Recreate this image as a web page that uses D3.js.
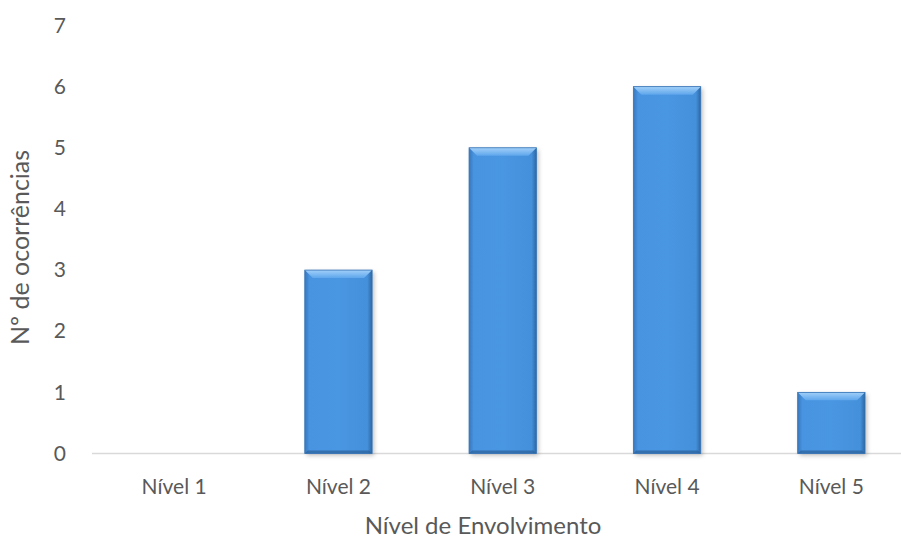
<!DOCTYPE html>
<html><head><meta charset="utf-8">
<script src="https://cdn.jsdelivr.net/npm/d3@7"></script>
<style>body{margin:0;background:#fff}svg{display:block}text{font-family:Lato,"Open Sans",sans-serif;fill:#595959}</style>
</head><body><svg id="c" width="901" height="541"></svg>
<script>
const categories=["Nível 1","Nível 2","Nível 3","Nível 4","Nível 5"];
const values=[0,3,5,6,1];
const yTicks=[0,1,2,3,4,5,6,7];
const xTitle="Nível de Envolvimento";
const yTitle="Nº de ocorrências";

const svg=d3.select("#c");
const x=d3.scaleBand().domain(categories).range([92,913.5]).paddingInner(0.59).paddingOuter(0.295);
const y=d3.scaleLinear().domain([0,7]).range([453.5,25.5]);

const defs=svg.append("defs");
const g1=defs.append("linearGradient").attr("id","hg").attr("x1","0").attr("x2","1").attr("y1","0").attr("y2","0");
[[0,"#3877bd"],[0.07,"#4894e0"],[0.5,"#4a96e2"],[0.93,"#4490da"],[1,"#2d66a3"]].forEach(s=>g1.append("stop").attr("offset",s[0]).attr("stop-color",s[1]));
const g3=defs.append("linearGradient").attr("id","tg").attr("x1","0").attr("x2","0").attr("y1","0").attr("y2","1");
[[0,"#a2d0f9"],[1,"#5ea6ec"]].forEach(s=>g3.append("stop").attr("offset",s[0]).attr("stop-color",s[1]));
const f=defs.append("filter").attr("id","sh").attr("x","-20%").attr("y","-20%").attr("width","150%").attr("height","150%");
f.append("feDropShadow").attr("dx",2).attr("dy",2).attr("stdDeviation",2).attr("flood-color","#000").attr("flood-opacity",0.25);

const xAxis=svg.append("g").attr("transform",`translate(0,${y(0)})`).call(d3.axisBottom(x).tickSize(0).tickPadding(0));
xAxis.select(".domain").attr("stroke","#d9d9d9").attr("stroke-width",1.5).attr("d",`M${x.range()[0]},0H${x.range()[1]}`);
xAxis.selectAll(".tick text").attr("dy",0).attr("y",40).style("font-size","21px").attr("fill","#595959");

const yAxis=svg.append("g").attr("transform",`translate(${x.range()[0]},0)`).call(d3.axisLeft(y).tickValues(yTicks).tickSize(0).tickPadding(26).tickFormat(d3.format("d")));
yAxis.select(".domain").remove();
yAxis.selectAll(".tick text").style("font-size","21px").attr("fill","#595959");

const bw=x.bandwidth(), bev=8;
const data=categories.map((c,i)=>({c,v:values[i]})).filter(d=>d.v>0);
const bars=svg.append("g").selectAll("g").data(data).join("g");
bars.append("rect").attr("x",d=>x(d.c)).attr("y",d=>y(d.v)).attr("width",bw).attr("height",d=>y(0)-y(d.v)).attr("fill","url(#hg)").attr("filter","url(#sh)");
bars.append("path").attr("d",d=>{const x0=x(d.c),x1=x0+bw,b=y(0);return `M${x0},${b}H${x1}L${x1-3},${b-3}H${x0+3}Z`;}).attr("fill","#2c5f99").attr("opacity",0.7);
bars.append("path").attr("d",d=>{const x0=x(d.c),x1=x0+bw,t=y(d.v);return `M${x0},${t}H${x1}L${x1-bev},${t+bev}H${x0+bev}Z`;}).attr("fill","url(#tg)");
bars.append("rect").attr("x",d=>x(d.c)).attr("y",d=>y(d.v)).attr("width",bw).attr("height",d=>y(0)-y(d.v)).attr("fill","none").attr("stroke","#3572b3").attr("stroke-width",0.8);

svg.append("text").attr("x",483).attr("y",534).attr("text-anchor","middle").style("font-size","24px").text(xTitle);
svg.append("text").attr("transform",`translate(29,${(y(0)+y(7))/2+8}) rotate(-90)`).attr("text-anchor","middle").style("font-size","25px").text(yTitle);
</script></body></html>
